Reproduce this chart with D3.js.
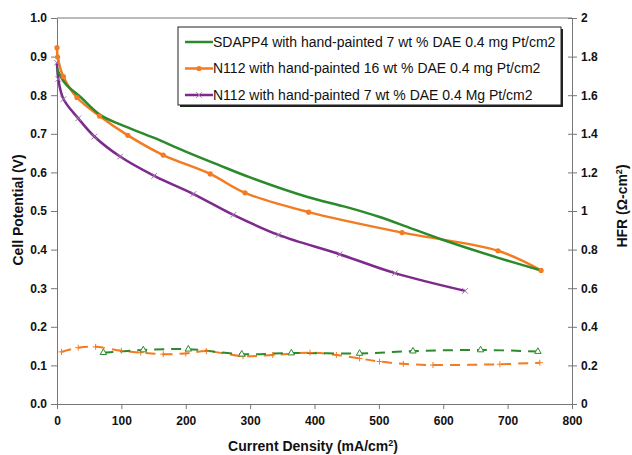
<!DOCTYPE html>
<html>
<head>
<meta charset="utf-8">
<title>Polarization and HFR</title>
<script src="https://cdn.jsdelivr.net/npm/d3@7"></script>
<style>
  body { margin: 0; background: #fff; }
  svg { display: block; font-family: "Liberation Sans", Arial, sans-serif; }
  .tick text { font-weight: bold; font-size: 12px; fill: #111; }
  .axis path, .axis line { stroke: #777; }
</style>
</head>
<body>
<div id="viz"></div>
<script>
// polarization curves: [current density mA/cm2, cell potential V]
var sdappVolt = [[0,0.87],[5,0.85],[15,0.826],[36,0.796],[67,0.749],[100,0.723],[150,0.69],[200,0.654],
                 [250,0.62],[300,0.587],[388,0.537],[450,0.51],[500,0.485],[550,0.455],[600,0.425],[683,0.38],[752,0.346]];
var n112_16Volt = [[0,0.923],[1,0.899],[10,0.848],[31,0.794],[66,0.746],[110,0.696],[165,0.645],[238,0.596],
                   [292,0.547],[391,0.497],[536,0.444],[685,0.397],[752,0.346]];
var n112_7Volt = [[0,0.884],[2,0.842],[10,0.79],[33,0.74],[58,0.693],[98,0.641],[151,0.591],[212,0.544],
                  [274,0.49],[344,0.438],[439,0.388],[525,0.339],[634,0.293]];

// HFR (ohm-cm2) on right axis
var sdappHfr = [[72,0.266],[134,0.28],[204,0.284],[287,0.258],[364,0.264],[470,0.262],[553,0.274],[658,0.28],[747,0.272]];
var n112_16Hfr = [[7,0.27],[33,0.292],[60,0.296],[100,0.276],[130,0.266],[165,0.258],[200,0.262],[232,0.274],
                  [289,0.248],[335,0.254],[393,0.266],[434,0.254],[470,0.236],[501,0.22],[538,0.208],[584,0.202],
                  [688,0.206],[750,0.214]];

var legendLabels = ["SDAPP4 with hand-painted 7 wt % DAE 0.4 mg Pt/cm2",
                    "N112 with hand-painted 16 wt % DAE 0.4 mg Pt/cm2",
                    "N112 with hand-painted 7 wt % DAE 0.4 Mg Pt/cm2"];
var colors = ["#2b8a2b", "#f47b20", "#7d2a8c"];

var xTicks = [0,100,200,300,400,500,600,700,800];
var yTicks = [0,0.1,0.2,0.3,0.4,0.5,0.6,0.7,0.8,0.9,1.0];
var y2Ticks = [0,0.2,0.4,0.6,0.8,1,1.2,1.4,1.6,1.8,2];

var W = 632, H = 455;
// plot box edges (note: "top" is a reserved window global, so use plot* names)
var plotLeft = 57, plotRight = 572, plotTop = 18, plotBottom = 404;

var svg = d3.select("#viz").append("svg").attr("width", W).attr("height", H);

var x = d3.scaleLinear().domain([0, 800]).range([plotLeft, plotRight]);
var y = d3.scaleLinear().domain([0, 1]).range([plotBottom, plotTop]);
var y2 = d3.scaleLinear().domain([0, 2]).range([plotBottom, plotTop]);

// top border
svg.append("line").attr("x1", plotLeft).attr("x2", plotRight).attr("y1", plotTop).attr("y2", plotTop)
   .attr("stroke", "#777");

// axes
svg.append("g").attr("class", "axis").attr("transform", "translate(0," + plotBottom + ")")
   .call(d3.axisBottom(x).tickValues(xTicks).tickSize(5).tickSizeOuter(0).tickPadding(7));
svg.append("g").attr("class", "axis").attr("transform", "translate(" + plotLeft + ",0)")
   .call(d3.axisLeft(y).tickValues(yTicks).tickSize(6).tickSizeOuter(0).tickFormat(d3.format(".1f")).tickPadding(4));
var y2Axis = svg.append("g").attr("class", "axis").attr("transform", "translate(" + plotRight + ",0)")
   .call(d3.axisRight(y2).tickValues(y2Ticks).tickSize(5).tickSizeOuter(0)
   .tickFormat(function(d) { return String(+d.toFixed(1)); }).tickPadding(4));
// right ticks cross the axis
y2Axis.selectAll(".tick line").attr("x1", -4);

var smooth = d3.line().x(function(d) { return x(d[0]); }).y(function(d) { return y(d[1]); })
   .curve(d3.curveCatmullRom.alpha(0.5));
var smooth2 = d3.line().x(function(d) { return x(d[0]); }).y(function(d) { return y2(d[1]); })
   .curve(d3.curveCatmullRom.alpha(0.5));

// HFR dashed lines
svg.append("path").datum(n112_16Hfr).attr("d", smooth2).attr("fill", "none")
   .attr("stroke", colors[1]).attr("stroke-width", 2).attr("stroke-dasharray", "10,7");
svg.append("path").datum(sdappHfr).attr("d", smooth2).attr("fill", "none")
   .attr("stroke", colors[0]).attr("stroke-width", 2).attr("stroke-dasharray", "10,7");

svg.append("g").selectAll("path").data(n112_16Hfr).enter().append("path")
   .attr("d", function(d) { var cx = x(d[0]), cy = y2(d[1]);
      return "M" + (cx - 3) + "," + cy + "H" + (cx + 3) + "M" + cx + "," + (cy - 3) + "V" + (cy + 3); })
   .attr("stroke", colors[1]).attr("stroke-width", 1);
svg.append("g").selectAll("path").data(sdappHfr).enter().append("path")
   .attr("d", d3.symbol().type(d3.symbolTriangle).size(18))
   .attr("transform", function(d) { return "translate(" + x(d[0]) + "," + y2(d[1]) + ")"; })
   .attr("fill", "#fff").attr("stroke", colors[0]).attr("stroke-width", 1);

// polarization curves
svg.append("path").datum(n112_7Volt).attr("d", smooth).attr("fill", "none")
   .attr("stroke", colors[2]).attr("stroke-width", 2.5);
svg.append("path").datum(n112_16Volt).attr("d", smooth).attr("fill", "none")
   .attr("stroke", colors[1]).attr("stroke-width", 2.5);
svg.append("path").datum(sdappVolt).attr("d", smooth).attr("fill", "none")
   .attr("stroke", colors[0]).attr("stroke-width", 2.5);

svg.append("g").selectAll("circle").data(n112_16Volt).enter().append("circle")
   .attr("cx", function(d) { return x(d[0]); }).attr("cy", function(d) { return y(d[1]); })
   .attr("r", 2.6).attr("fill", colors[1]);
svg.append("g").selectAll("path").data(n112_7Volt).enter().append("path")
   .attr("d", d3.symbol().type(d3.symbolX).size(22))
   .attr("transform", function(d) { return "translate(" + x(d[0]) + "," + y(d[1]) + ")"; })
   .attr("stroke", "#a070b0").attr("stroke-width", 1).attr("fill", "none");

// legend
var lg = svg.append("g").attr("transform", "translate(178,27)");
lg.append("rect").attr("x", 2).attr("y", 2).attr("width", 383).attr("height", 78).attr("fill", "#222");
lg.append("rect").attr("x", 0).attr("y", 0).attr("width", 383).attr("height", 78)
   .attr("fill", "#fff").attr("stroke", "#222").attr("stroke-width", 1);
var rows = lg.selectAll("g.row").data(legendLabels).enter().append("g").attr("class", "row")
   .attr("transform", function(d, i) { return "translate(0," + (15 + i * 26.5) + ")"; });
rows.append("line").attr("x1", 7).attr("x2", 35).attr("stroke", function(d, i) { return colors[i]; })
   .attr("stroke-width", 2.5);
rows.filter(function(d, i) { return i == 1; }).append("circle").attr("cx", 21).attr("r", 2.6).attr("fill", colors[1]);
rows.filter(function(d, i) { return i == 2; }).append("path")
   .attr("d", d3.symbol().type(d3.symbolX).size(22)).attr("transform", "translate(21,0)")
   .attr("stroke", "#a070b0").attr("stroke-width", 1);
rows.append("text").attr("x", 35).attr("dy", "0.35em").attr("font-size", 14).attr("fill", "#111")
   .text(function(d) { return d; });

// axis titles
svg.append("text").attr("transform", "translate(23,210) rotate(-90)").attr("text-anchor", "middle")
   .attr("font-weight", "bold").attr("font-size", 14).attr("fill", "#111").text("Cell Potential (V)");
var ht = svg.append("text").attr("transform", "translate(627,206) rotate(-90)").attr("text-anchor", "middle")
   .attr("font-weight", "bold").attr("font-size", 14).attr("fill", "#111");
ht.append("tspan").text("HFR (\u03A9-cm");
ht.append("tspan").attr("dy", -5).attr("font-size", 9).text("2");
ht.append("tspan").attr("dy", 5).text(")");
var xt = svg.append("text").attr("x", 313).attr("y", 451).attr("text-anchor", "middle")
   .attr("font-weight", "bold").attr("font-size", 14).attr("fill", "#111");
xt.append("tspan").text("Current Density (mA/cm");
xt.append("tspan").attr("dy", -5).attr("font-size", 9).text("2");
xt.append("tspan").attr("dy", 5).text(")");
</script>
</body>
</html>
